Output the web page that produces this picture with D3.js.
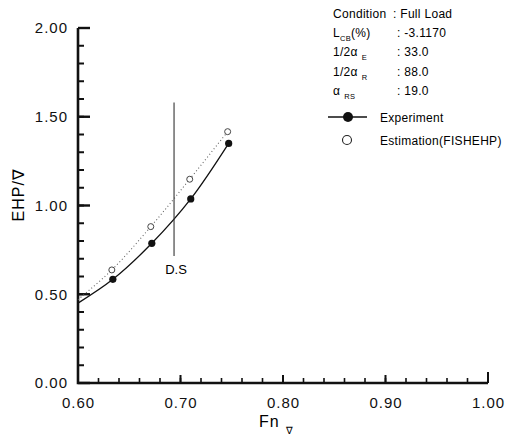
<!DOCTYPE html>
<html>
<head>
<meta charset="utf-8">
<script src="https://cdn.jsdelivr.net/npm/d3@7"></script>
<style>
body { margin: 0; background: #fff; }
svg { font-family: "Liberation Sans", Arial, sans-serif; }
.tick text { font-size: 15px; letter-spacing: 1px; fill: #111; }
</style>
</head>
<body>
<svg id="chart"></svg>
<script>
var w = 513, h = 439;
var margin = {top: 28, right: 25, bottom: 56, left: 78};

// data
var fnExp  = [0.634, 0.672, 0.710, 0.747];
var ehpExp = [0.584, 0.787, 1.037, 1.350];
var fnEst  = [0.633, 0.671, 0.709, 0.746];
var ehpEst = [0.637, 0.881, 1.148, 1.416];
// where the fitted curves start at the left axis
var fitStartFn = 0.60, fitStartExp = 0.45, fitStartEst = 0.47;
// design speed marker
var dsFn = 0.6937, dsRange = [0.715, 1.58];

var xTicks = [0.60, 0.70, 0.80, 0.90, 1.00];
var yTicks = [0.00, 0.50, 1.00, 1.50, 2.00];
var xMinor = d3.range(1, 20).map(function(i){ return 0.6 + i * 0.02; });
var yMinor = d3.range(1, 20).map(function(i){ return i * 0.1; });

var condLabels = ["Condition", "L", "1/2\u03b1", "1/2\u03b1", "\u03b1"];
var condSubs   = ["", "CB", "E", "R", "RS"];
var condSubTail = ["", "(%)", "", "", ""];
var condValues = ["Full Load", "-3.1170", "33.0", "88.0", "19.0"];

var svg = d3.select("#chart").attr("width", w).attr("height", h);

var x = d3.scaleLinear().domain([0.6, 1.0]).range([margin.left, w - margin.right]);
var y = d3.scaleLinear().domain([0, 2]).range([h - margin.bottom, margin.top]);

// tick labels from the axes
var yAx = svg.append("g")
	.attr("transform", "translate(" + margin.left + ",0)")
	.call(d3.axisLeft(y).tickValues(yTicks).tickSize(0).tickPadding(10).tickFormat(d3.format(".2f")));
yAx.select(".domain").remove();

var xAx = svg.append("g")
	.attr("transform", "translate(0," + (h - margin.bottom) + ")")
	.call(d3.axisBottom(x).tickValues(xTicks).tickSize(0).tickPadding(14).tickFormat(d3.format(".2f")));
xAx.select(".domain").remove();

// tick marks as small filled rects, inward
svg.selectAll("rect.ymin").data(yMinor).enter().append("rect")
	.attr("class", "ymin")
	.attr("x", x(0.6)).attr("y", function(d){ return y(d) - 1; })
	.attr("width", 6).attr("height", 2).attr("fill", "#111");
svg.selectAll("rect.ymaj").data(yTicks).enter().append("rect")
	.attr("class", "ymaj")
	.attr("x", x(0.6)).attr("y", function(d){ return y(d) - 1.2; })
	.attr("width", 12).attr("height", 2.4).attr("fill", "#111");
svg.selectAll("rect.xmin").data(xMinor).enter().append("rect")
	.attr("class", "xmin")
	.attr("x", function(d){ return x(d) - 0.8; }).attr("y", y(0) - 5)
	.attr("width", 1.6).attr("height", 5).attr("fill", "#111");
svg.selectAll("rect.xmaj").data(xTicks.slice(1)).enter().append("rect")
	.attr("class", "xmaj")
	.attr("x", function(d){ return x(d) - 1; })
	.attr("y", function(d){ return y(0) - (d === 1.0 ? 11 : 8); })
	.attr("width", 2).attr("height", function(d){ return d === 1.0 ? 11 : 8; })
	.attr("fill", "#111");

// axis lines
svg.append("path")
	.attr("d", "M" + x(0.6) + "," + y(2) + "V" + y(0) + "H" + x(1.0))
	.attr("fill", "none").attr("stroke", "#111").attr("stroke-width", 2.6);

// axis titles
svg.append("text")
	.attr("transform", "translate(24," + y(1.06) + ") rotate(-90)")
	.attr("text-anchor", "middle")
	.style("font-size", "16px").style("letter-spacing", "1px")
	.text("EHP/\u2207");

var xt = svg.append("text").attr("x", 259).attr("y", 427).style("font-size", "16px").style("letter-spacing", "1px");
xt.append("tspan").text("Fn");
xt.append("tspan").attr("dx", 6).attr("dy", 7).style("font-size", "10px").text("\u2207");

// curves
var lineGen = d3.line()
	.x(function(d){ return x(d[0]); })
	.y(function(d){ return y(d[1]); })
	.curve(d3.curveCatmullRom.alpha(0.5));

var expPts = [[fitStartFn, fitStartExp]].concat(fnExp.map(function(f, i){ return [f, ehpExp[i]]; }));
var estPts = [[fitStartFn, fitStartEst]].concat(fnEst.map(function(f, i){ return [f, ehpEst[i]]; }));

svg.append("path").datum(estPts)
	.attr("d", lineGen).attr("fill", "none")
	.attr("stroke", "#666").attr("stroke-width", 1.1).attr("stroke-dasharray", "1,2.5");

svg.append("path").datum(expPts)
	.attr("d", lineGen).attr("fill", "none")
	.attr("stroke", "#111").attr("stroke-width", 1.3);

// design speed line
svg.append("line")
	.attr("x1", x(dsFn)).attr("x2", x(dsFn))
	.attr("y1", y(dsRange[1])).attr("y2", y(dsRange[0]))
	.attr("stroke", "#333").attr("stroke-width", 1.1);
svg.append("text")
	.attr("x", x(dsFn) + 2).attr("y", y(dsRange[0]) + 18)
	.attr("text-anchor", "middle")
	.style("font-size", "13px")
	.text("D.S");

// points
svg.selectAll("circle.est").data(fnEst).enter().append("circle")
	.attr("class", "est")
	.attr("cx", function(d){ return x(d); })
	.attr("cy", function(d, i){ return y(ehpEst[i]); })
	.attr("r", 3).attr("fill", "#fff").attr("stroke", "#444").attr("stroke-width", 1);

svg.selectAll("circle.exp").data(fnExp).enter().append("circle")
	.attr("class", "exp")
	.attr("cx", function(d){ return x(d); })
	.attr("cy", function(d, i){ return y(ehpExp[i]); })
	.attr("r", 3.6).attr("fill", "#111");

// condition legend
var cond = svg.append("g").style("font-size", "12px").style("letter-spacing", "0.3px");
condLabels.forEach(function(lab, i){
	var yy = 18 + i * 19.2;
	var tx = cond.append("text").attr("x", 333).attr("y", yy);
	tx.append("tspan").text(lab);
	if (condSubs[i]) {
		tx.append("tspan").attr("dx", i === 1 ? 0 : 4).attr("dy", 4).style("font-size", "7.5px").text(condSubs[i]);
		if (condSubTail[i]) tx.append("tspan").attr("dy", -4).text(condSubTail[i]);
	}
	cond.append("text").attr("x", i === 0 ? 393 : 397).attr("y", yy)
		.text(":  " + condValues[i]);
});

var leg = svg.append("g");
leg.append("line").attr("x1", 328).attr("x2", 367).attr("y1", 117).attr("y2", 117)
	.attr("stroke", "#111").attr("stroke-width", 1.3);
leg.append("circle").attr("cx", 348).attr("cy", 117).attr("r", 5).attr("fill", "#111");
leg.append("circle").attr("cx", 347).attr("cy", 140).attr("r", 4.5)
	.attr("fill", "#fff").attr("stroke", "#222").attr("stroke-width", 1.1);
leg.append("text").attr("x", 380).attr("y", 122).style("font-size", "12px").style("letter-spacing", "0.3px").text("Experiment");
leg.append("text").attr("x", 380).attr("y", 145).style("font-size", "12px").style("letter-spacing", "0.3px").text("Estimation(FISHEHP)");
</script>
</body>
</html>
